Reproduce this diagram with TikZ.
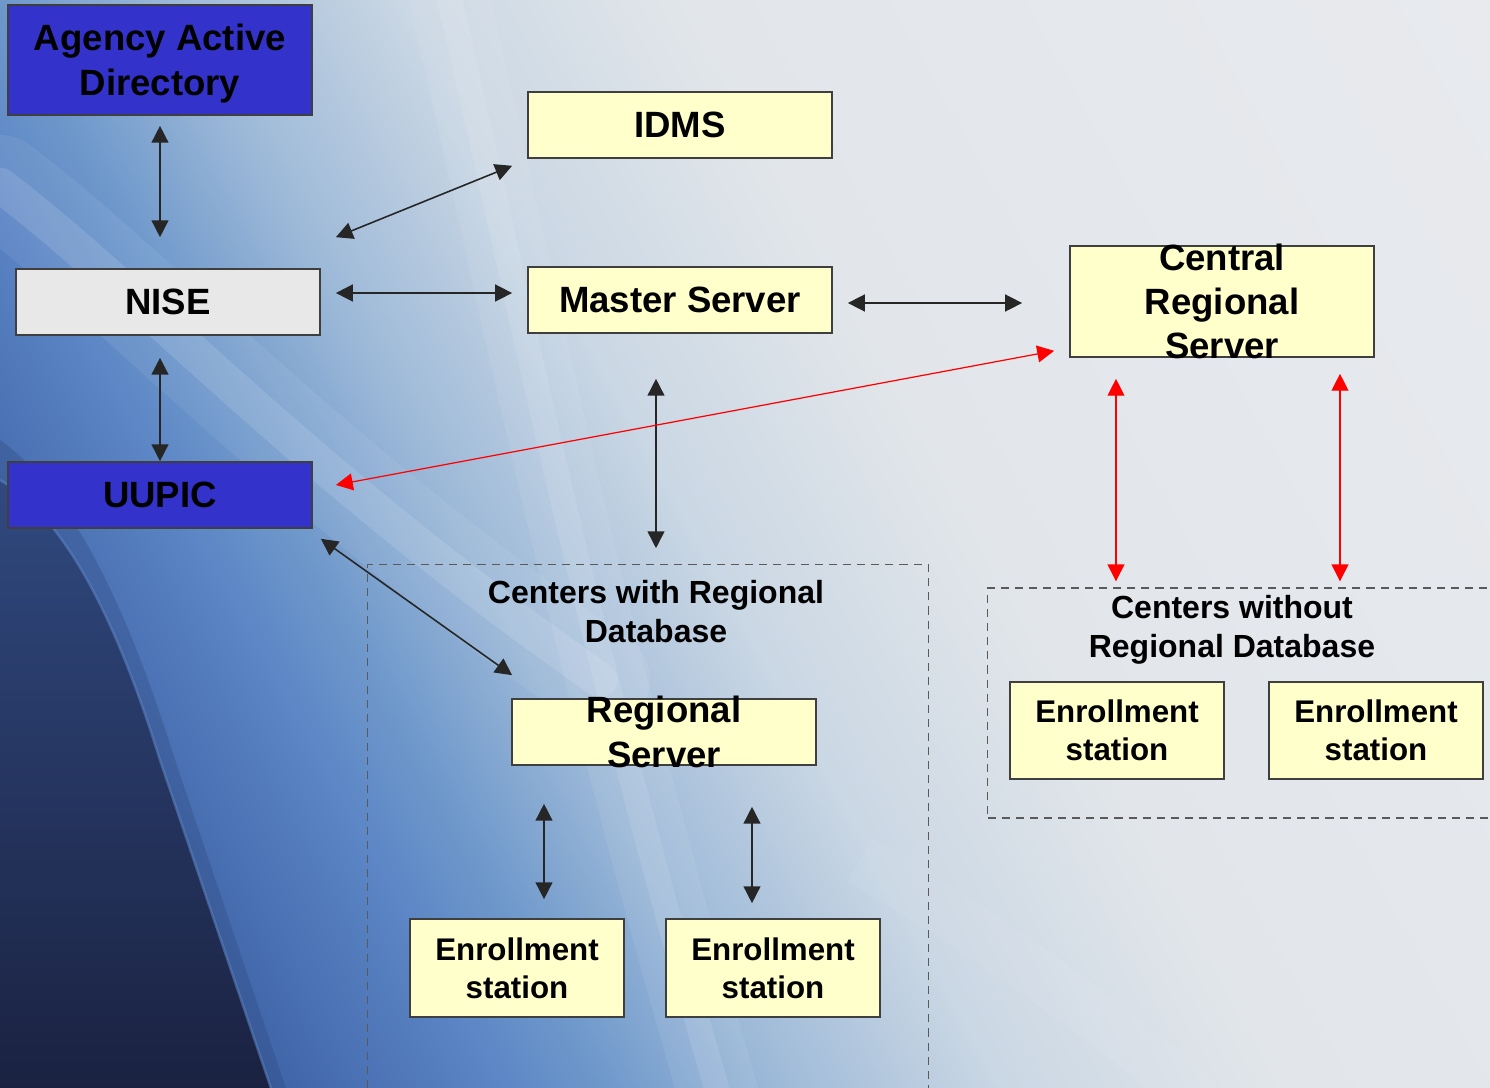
\documentclass[tikz,border=0pt]{standalone}
\usepackage{fontspec}
\setmainfont{Liberation Sans}
\usetikzlibrary{arrows.meta}
\definecolor{boxblue}{HTML}{3333CC}
\definecolor{boxyellow}{HTML}{FFFFCC}
\definecolor{boxgray}{HTML}{E8E8E8}
\definecolor{boxline}{HTML}{3F3F3F}
\definecolor{dashline}{HTML}{5A5A5A}
\definecolor{linkred}{HTML}{FF0000}
\definecolor{bga}{HTML}{2A3F78}
\definecolor{bgb}{HTML}{3D62A6}
\definecolor{bgc}{HTML}{5A84C4}
\definecolor{bgd}{HTML}{6E98CB}
\definecolor{bge}{HTML}{9DB9D8}
\definecolor{bgf}{HTML}{CAD7E4}
\definecolor{bgg}{HTML}{E2E6EA}
\definecolor{bgh}{HTML}{E8EAEE}
\definecolor{navya}{HTML}{1A2140}
\definecolor{navyb}{HTML}{30497F}
\definecolor{rimblue}{HTML}{5B80C0}
\pgfdeclarehorizontalshading{bgsweep}{100bp}{color(0bp)=(bga); color(25bp)=(bga); color(31.25bp)=(bgb); color(36.7bp)=(bgc); color(39.4bp)=(bgd); color(43.5bp)=(bge); color(48.9bp)=(bgf); color(55.7bp)=(bgg); color(75bp)=(bgh); color(100bp)=(bgh)}
\tikzset{
  box/.style={draw=boxline, line width=0.45pt, inner sep=0pt, align=center,
    font=\bfseries\fontsize{10.4}{12.6}\selectfont, minimum width=3.04cm, minimum height=0.66cm},
  bluebox/.style={box, fill=boxblue},
  yellowbox/.style={box, fill=boxyellow},
  graybox/.style={box, fill=boxgray},
  bigtext/.style={align=center, inner sep=0pt, font=\bfseries\fontsize{10.4}{12.6}\selectfont},
  station/.style={yellowbox, font=\bfseries\fontsize{8.9}{10.8}\selectfont,
    minimum width=2.14cm, minimum height=0.98cm},
  group/.style={draw=dashline, line width=0.35pt, dash pattern=on 2.3pt off 1.7pt, inner sep=0pt},
  grouptitle/.style={align=center, inner sep=0pt, font=\bfseries\fontsize{9.1}{11.1}\selectfont},
  link/.style={{Triangle[length=4.8pt,width=4.8pt]}-{Triangle[length=4.8pt,width=4.8pt]},
    line width=0.45pt, draw=black!85},
  redlink/.style={link, draw=linkred, line width=0.35pt}
}
\begin{document}
\begin{tikzpicture}[x=0.01cm,y=-0.01cm]
	\useasboundingbox (0,0) rectangle (1490,1088);
	% background
	\begin{scope}
		\clip (0,0) rectangle (1490,1088);
		\begin{scope}[transform canvas={rotate=29}]
			\shade[shading=bgsweep] (-530,-2200) rectangle (1310,2200);
		\end{scope}
		\draw[white, opacity=0.07, line width=1.0cm, line cap=round] (0,185) .. controls (150,300) and (300,470) .. (600,680);
		\draw[white, opacity=0.12, line width=0.35cm, line cap=round] (0,185) .. controls (150,300) and (300,470) .. (600,680);
		\draw[white, opacity=0.07, line width=0.8cm] (445,-20) .. controls (520,300) and (580,620) .. (720,1100);
		\draw[white, opacity=0.10, line width=0.25cm] (445,-20) .. controls (520,300) and (580,620) .. (720,1100);
		\draw[white, opacity=0.05, line width=0.5cm] (860,860) .. controls (980,930) and (1080,1000) .. (1200,1100);
		% dark corner
		\fill[navyb, opacity=0.35] (0,440) .. controls (70,490) and (125,600) .. (175,760) -- (290,1100) -- (0,1100) -- cycle;
		\shade[top color=navyb, bottom color=navya] (0,480) .. controls (60,515) and (112,605) .. (160,760) -- (275,1100) -- (0,1100) -- cycle;
		\draw[rimblue, opacity=0.6, line width=0.7pt] (0,480) .. controls (60,515) and (112,605) .. (160,760) -- (275,1100);
	\end{scope}

	% groups
	\node[group, minimum width=5.60cm, minimum height=5.30cm] (withdb) at (648,830) {};
	\node[group, minimum width=5.07cm, minimum height=2.30cm] (wodb) at (1241.5,703) {};
	\node[grouptitle] (withtitle) at (656,611.5) {Centers with Regional\\Database};
	\node[grouptitle] (wotitle) at (1232,630) {Centers without\\Regional Database};

	% boxes
	\node[bluebox, minimum height=1.10cm, label={[bigtext, yshift=-0.035cm, font=\bfseries\fontsize{10.4}{12.9}\selectfont]center:{Agency Active\\Directory}}] (aad) at (160,60) {};
	\node[graybox] (nise) at (168,302) {NISE};
	\node[bluebox] (uupic) at (160,495) {UUPIC};
	\node[yellowbox] (idms) at (680,125) {IDMS};
	\node[yellowbox] (master) at (680,300) {Master Server};
	\node[yellowbox, minimum height=1.11cm, label={[bigtext]center:{Central\\Regional\\Server}}] (central) at (1222,301.5) {};
	\node[yellowbox, label={[bigtext]center:{Regional\\Server}}] (regional) at (664,732) {};
	\node[station] (es1) at (517,968) {Enrollment\\station};
	\node[station] (es2) at (773,968) {Enrollment\\station};
	\node[station, minimum height=0.97cm] (es3) at (1117,730.5) {Enrollment\\station};
	\node[station, minimum height=0.97cm] (es4) at (1376,730.5) {Enrollment\\station};

	% connectors
	\draw[link] ([shift={(0,10)}]aad.south) -- ([shift={(-8,-31)}]nise.north);
	\draw[link] ([shift={(-8,22)}]nise.south) -- (uupic.north);
	\draw[link] ([shift={(15,-31)}]nise.north east) -- ([shift={(-15,7)}]idms.south west);
	\draw[link] ([shift={(15,-9)}]nise.east) -- ([shift={(-15,-7)}]master.west);
	\draw[link] ([shift={(15,3)}]master.east) -- ([shift={(-47,1.5)}]central.west);
	\draw[link] ([shift={(-24,45)}]master.south) -- ([shift={(8,-16)}]withdb.north);
	\draw[redlink] ([shift={(23,-10)}]uupic.east) -- ([shift={(-15,-7)}]central.south west);
	\draw[link] ([shift={(8,10)}]uupic.south east) -- ([shift={(1,-23)}]regional.north west);
	\draw[redlink] ([shift={(-106,21)}]central.south) -- ([shift={(-125.5,-6)}]wodb.north);
	\draw[redlink] ([shift={(118,16)}]central.south) -- ([shift={(98.5,-6)}]wodb.north);
	\draw[link] ([shift={(-120,38)}]regional.south) -- ([shift={(27,-19)}]es1.north);
	\draw[link] ([shift={(88,41)}]regional.south) -- ([shift={(-21,-15)}]es2.north);
\end{tikzpicture}
\end{document}
